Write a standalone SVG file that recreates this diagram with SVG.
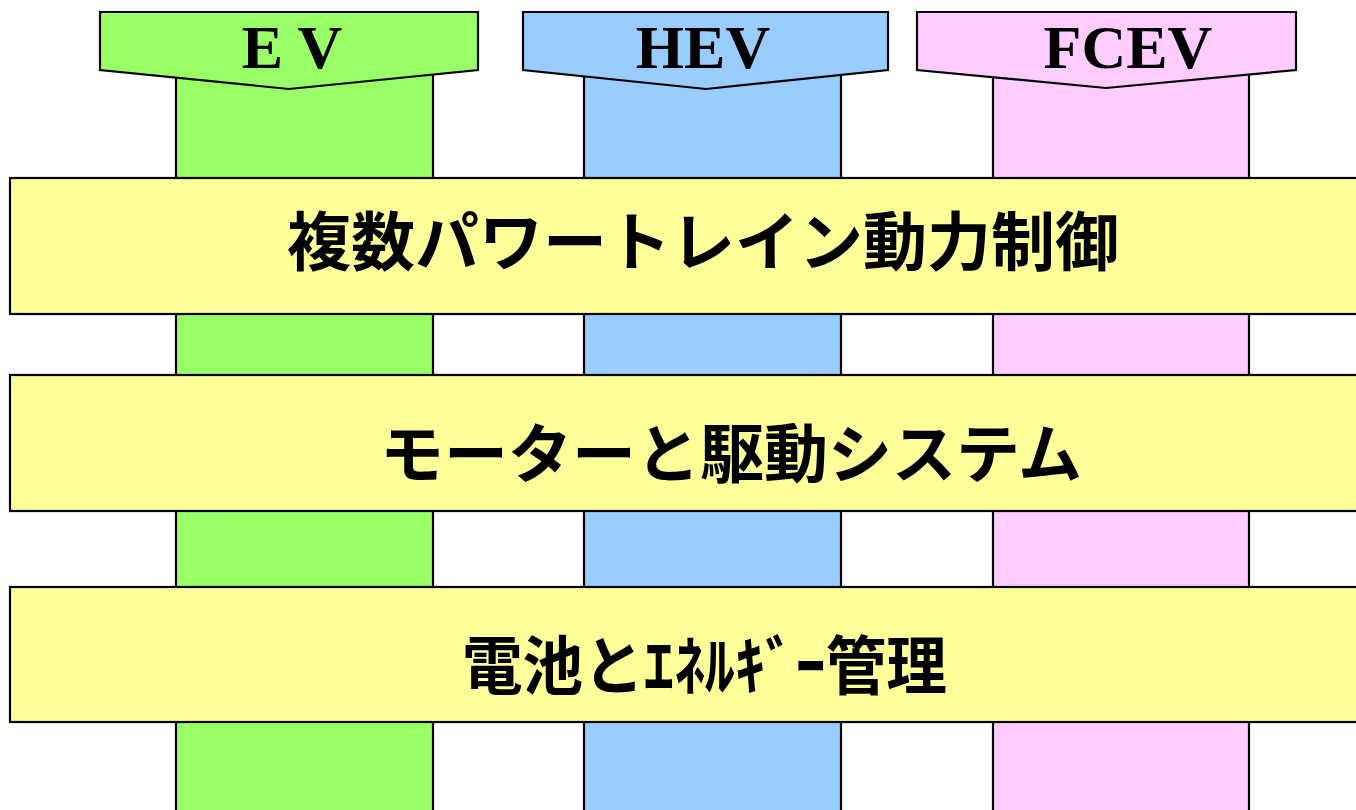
<svg xmlns="http://www.w3.org/2000/svg" width="1356" height="810" viewBox="0 0 1356 810">
<style>
.s{stroke:#000;stroke-width:2.2}
.ev{fill:#99FF66}
.hev{fill:#99CCFF}
.fc{fill:#FFCCFF}
.bar{fill:#FFFF99}
.h{font-family:"Liberation Serif","Times New Roman",serif;font-weight:bold;font-size:62px;text-anchor:middle;fill:#000}
.t{font-family:"Noto Sans CJK JP","Noto Sans",sans-serif;font-weight:bold;font-size:64px;text-anchor:middle;fill:#000}
</style>
<rect width="1356" height="810" fill="#fff"/>
<g id="col-ev">
<rect class="s ev" x="176" y="60" width="257" height="760"/>
<polygon class="s ev" points="100,12 478,12 478,70 289,89 100,70"/>
<text class="h" x="292" y="68">E V</text>
</g>
<g id="col-hev">
<rect class="s hev" x="584" y="60" width="257" height="760"/>
<polygon class="s hev" points="523,12 888,12 888,70 706,89 523,70"/>
<text class="h" x="703" y="68">HEV</text>
</g>
<g id="col-fcev">
<rect class="s fc" x="993" y="60" width="256" height="760"/>
<polygon class="s fc" points="917,12 1296,12 1296,70 1106,88 917,70"/>
<text class="h" x="1128" y="68">FCEV</text>
</g>
<g id="bar1">
<rect class="s bar" x="10" y="178" width="1360" height="136"/>
<text class="t" x="703" y="265">複数パワートレイン動力制御</text>
</g>
<g id="bar2">
<rect class="s bar" x="10" y="375" width="1360" height="136"/>
<text class="t" x="731" y="477">モーターと駆動システム</text>
</g>
<g id="bar3">
<rect class="s bar" x="10" y="587" width="1360" height="135"/>
<text class="t" x="462" y="689" style="text-anchor:start" textLength="485" lengthAdjust="spacingAndGlyphs">電池とｴﾈﾙｷﾞｰ管理</text>
</g>
<g id="connectors"></g>
</svg>
